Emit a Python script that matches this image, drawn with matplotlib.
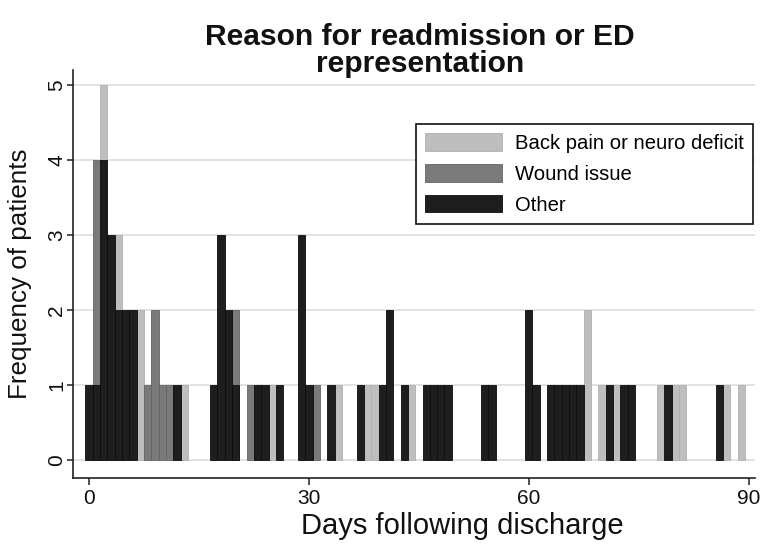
import matplotlib
matplotlib.use("Agg")
import matplotlib.pyplot as plt
from matplotlib.patches import Patch

plt.rcParams['font.family'] = ['Liberation Sans', 'DejaVu Sans']

# Data: day following discharge -> number of patients
back_days = [2, 4, 7, 13, 25, 34, 38, 39, 44, 68, 70, 72, 78, 80, 81, 87, 89]
back_counts = [5, 3, 2, 1, 1, 1, 1, 1, 1, 2, 1, 1, 1, 1, 1, 1, 1]

wound_days = [1, 8, 9, 10, 11, 20, 22, 31]
wound_counts = [4, 1, 2, 1, 1, 2, 1, 1]

other_days = [0, 1, 2, 3, 4, 5, 6, 12, 17, 18, 19, 20, 23, 24, 26, 29, 30, 33,
              37, 40, 41, 43, 46, 47, 48, 49, 54, 55, 60, 61, 63, 64, 65, 66,
              67, 71, 73, 74, 79, 86]
other_counts = [1, 1, 4, 3, 2, 2, 2, 1, 1, 3, 2, 1, 1, 1, 1, 3, 1, 1,
                1, 1, 2, 1, 1, 1, 1, 1, 1, 1, 2, 1, 1, 1, 1, 1,
                1, 1, 1, 1, 1, 1]

series_labels = ["Back pain or neuro deficit", "Wound issue", "Other"]
x_ticks = [0, 30, 60, 90]
y_ticks = [0, 1, 2, 3, 4, 5]

colors = ['#bebebe', '#7a7a7a', '#1e1e1e']
edges = ['#b0b0b0', '#646464', '#0c0c0c']

fig = plt.figure(figsize=(7.64, 5.44), dpi=100)
ax = fig.add_axes([0.0955, 0.121, 0.893, 0.750])

for days, counts, c, e in zip([back_days, wound_days, other_days],
                              [back_counts, wound_counts, other_counts],
                              colors, edges):
    ax.bar(days, counts, width=1.0, align='center', color=c,
           edgecolor=e, linewidth=0.6, zorder=3)

ax.set_xlim(-2.2, 90.9)
ax.set_ylim(-0.24, 5.2)
ax.set_xticks(x_ticks)
ax.set_yticks(y_ticks)
ax.set_yticklabels([str(v) for v in y_ticks], rotation=90, va='center')
ax.tick_params(axis='both', labelsize=15, width=1.1,
               color='#222222', labelcolor='#111111')
ax.tick_params(axis='y', pad=1, length=4)
ax.tick_params(axis='x', pad=3, length=5)

ax.yaxis.grid(True, color='#dedede', linewidth=1.2, zorder=0)
ax.set_axisbelow(True)
for s in ['top', 'right']:
    ax.spines[s].set_visible(False)
for s in ['left', 'bottom']:
    ax.spines[s].set_color('#222222')
    ax.spines[s].set_linewidth(1.2)

ax.set_xlabel("Days following discharge", fontsize=21, color='#111111')
ax.xaxis.set_label_coords(0.57, -0.082)
ax.set_ylabel("Frequency of patients", fontsize=18.7, color='#111111')
ax.yaxis.set_label_coords(-0.06, 0.5)
fig.text(0.55, 0.907, "Reason for readmission or ED\nrepresentation", fontsize=21.6,
         fontweight='bold', ha='center', va='center', linespacing=0.98,
         color='#111111')

handles = [Patch(facecolor=c, edgecolor=e, linewidth=0.6) for c, e in zip(colors, edges)]
leg = ax.legend(handles, series_labels, loc='upper right',
                bbox_to_anchor=(0.985, 0.772), bbox_transform=fig.transFigure,
                fontsize=14.6, frameon=True,
                fancybox=False, edgecolor='#111111', framealpha=1,
                handlelength=3.8, handleheight=0.95, handletextpad=0.6,
                borderpad=0.45, labelspacing=0.55, borderaxespad=0)
leg.get_frame().set_linewidth(1.2)
leg.set_zorder(5)

fig.savefig("out.png", dpi=100, facecolor='white')
